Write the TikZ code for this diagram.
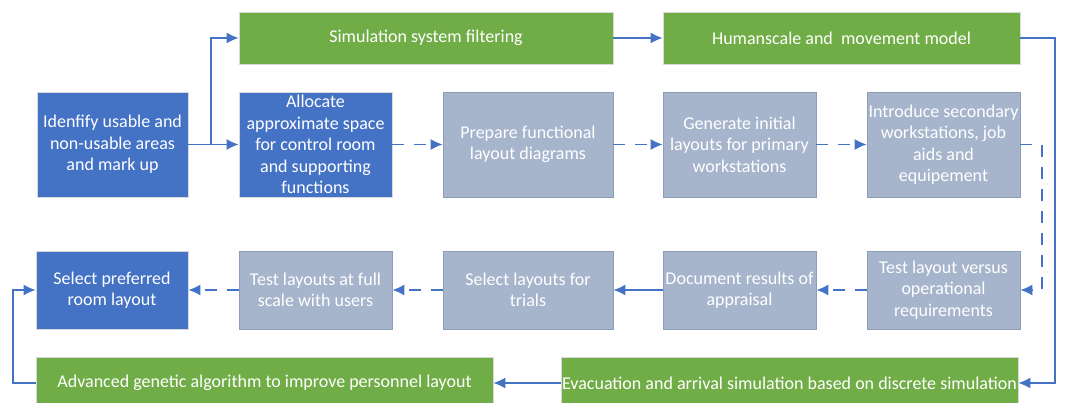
\documentclass[tikz,border=0pt]{standalone}
\usepackage{fontspec}
\setmainfont{Carlito}
\usetikzlibrary{arrows.meta}
\definecolor{boxblue}{HTML}{4472C4}
\definecolor{boxgreen}{HTML}{70AD47}
\definecolor{boxgrey}{HTML}{A6B5CC}
\definecolor{greyline}{HTML}{8C9DB8}
\definecolor{linkblue}{HTML}{4472C4}
\tikzset{
  stage/.style={rectangle, draw=white!85!black, line width=0.8pt, text=white,
    align=center, inner sep=0pt, minimum height=105pt,
    font=\fontsize{18}{21.5}\selectfont},
  bluestage/.style={stage, fill=boxblue},
  greystage/.style={stage, fill=boxgrey, draw=greyline},
  simbox/.style={stage, fill=boxgreen, minimum height=52pt},
  flow/.style={->, draw=linkblue, line width=1.3pt},
  dflow/.style={flow, dash pattern=on 12pt off 10pt}
}
\begin{document}
\begin{tikzpicture}[x=1pt, y=-1pt, >={Latex[length=12pt,width=11pt]}]
    \useasboundingbox (0,0) rectangle (1077,403);
    % Obere Simulationsbausteine
    \node[simbox, minimum width=374pt] (filter) at (426,38) {Simulation system filtering};
    \node[simbox, minimum width=357pt] (human) at (841.5,38) {Humanscale and\ \ movement model};
    % Mittlere Reihe
    \node[bluestage, minimum width=151pt] (usable) at (112.5,144.5)
        {Idenfify usable and\\ non-usable areas\\ and mark up};
    \node[bluestage, minimum width=153pt] (allocate) at (315.5,144.5)
        {Allocate\\ approximate space\\ for control room\\ and supporting\\ functions};
    \node[greystage, minimum width=170pt] (prepare) at (528,144.5)
        {Prepare functional\\ layout diagrams};
    \node[greystage, minimum width=153pt] (generate) at (739.5,144.5)
        {Generate initial\\ layouts for primary\\ workstations};
    \node[greystage, minimum width=153pt] (secondary) at (943.5,144.5)
        {Introduce secondary\\ workstations, job\\ aids and\\ equipement};
    % Untere Reihe
    \node[bluestage, minimum width=152pt, minimum height=78pt] (preferred) at (112,290)
        {Select preferred\\ room layout};
    \node[greystage, minimum width=153pt, minimum height=78pt] (fullscale) at (315.5,290)
        {Test layouts at full\\ scale with users};
    \node[greystage, minimum width=170pt, minimum height=78pt] (trials) at (528,290)
        {Select layouts for\\ trials};
    \node[greystage, minimum width=153pt, minimum height=78pt] (appraisal) at (739.5,290)
        {Document results of\\ appraisal};
    \node[greystage, minimum width=153pt, minimum height=78pt] (versus) at (943.5,290)
        {Test layout versus\\ operational\\ requirements};
    % Untere Simulationsbausteine
    \node[simbox, minimum width=457pt] (genetic) at (264.5,383)
        {Advanced genetic algorithm to improve personnel layout};
    \node[simbox, minimum width=457pt] (evac) at (789.5,383)
        {Evacuation and arrival simulation based on discrete simulation};
    % Verbindungen
    \draw[flow] (usable) -- (allocate);
    \draw[flow] (usable.east) -| (211,38) -- (filter.west);
    \draw[flow] (filter) -- (human);
    \draw[dflow] (allocate) -- (prepare);
    \draw[dflow] (prepare) -- (generate);
    \draw[dflow] (generate) -- (secondary);
    \draw[dflow] (secondary.east) -- (1042,144.5) |- (versus.east);
    \draw[dflow] (versus) -- (appraisal);
    \draw[flow] (appraisal) -- (trials);
    \draw[dflow] (trials) -- (fullscale);
    \draw[dflow] (fullscale) -- (preferred);
    \draw[flow] (human.east) -- (1055,38) |- (evac.east);
    \draw[flow] (evac) -- (genetic);
    \draw[flow] (genetic.west) -- (13,383) |- (preferred.west);
\end{tikzpicture}
\end{document}
